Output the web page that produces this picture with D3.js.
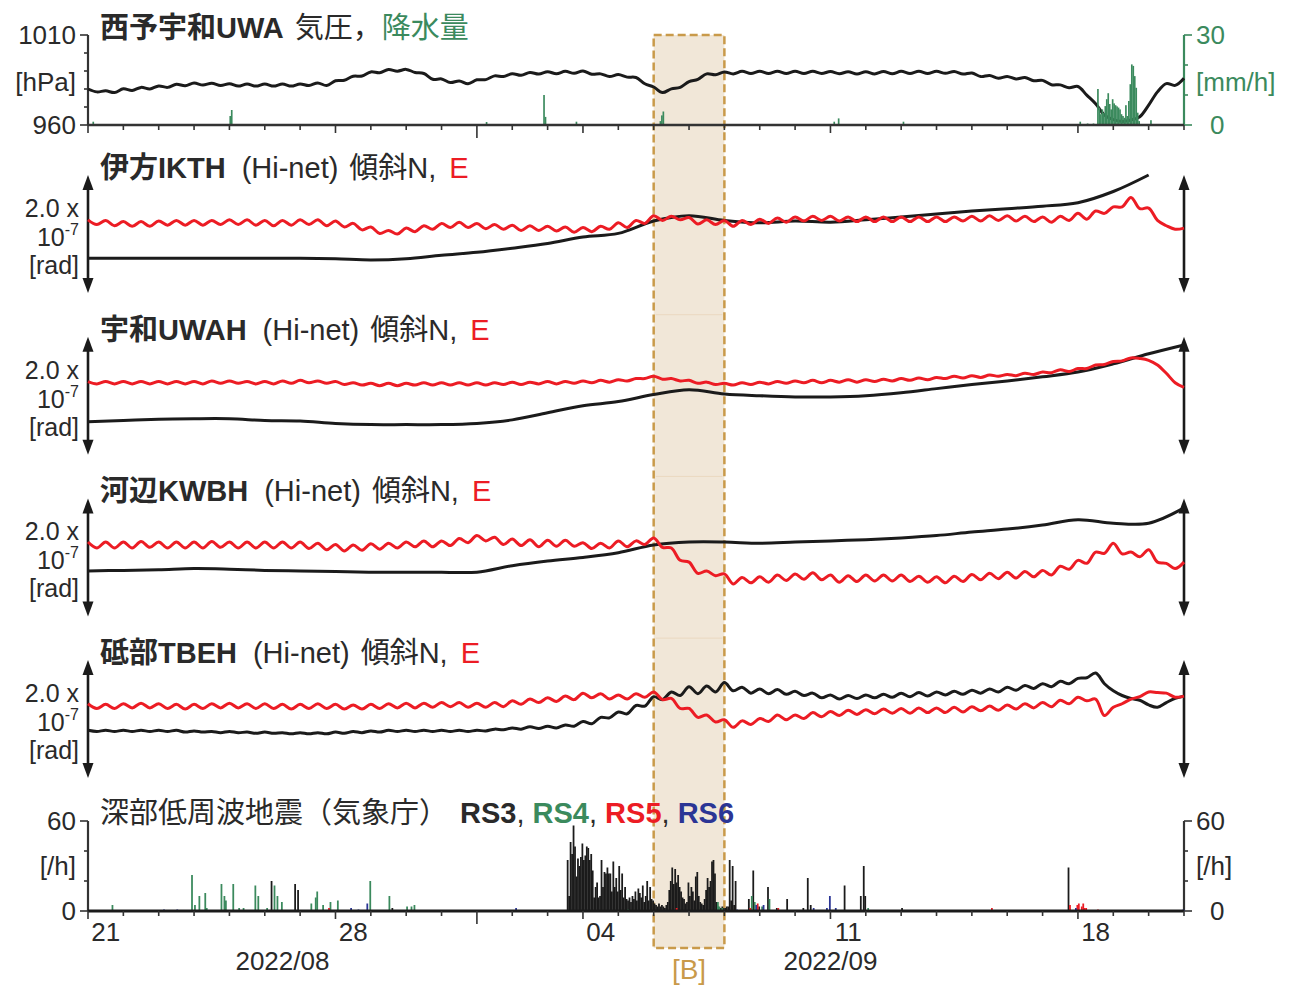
<!DOCTYPE html>
<html>
<head>
<meta charset="utf-8">
<script src="https://cdn.jsdelivr.net/npm/d3@7"></script>
<style>
  body { margin: 0; background: #fff; }
  svg { display: block; }
</style>
</head>
<body>
<svg id="chart" width="1298" height="986"></svg>
<script>
// ---- time frame -------------------------------------------------------------
const periodStart = "2022-08-21T00:00:00Z";
const periodEnd = "2022-09-21T00:00:00Z";
const highlightSpan = ["2022-09-06T00:00:00Z", "2022-09-08T00:00:00Z"];
const dayLabels = [["2022-08-21T12:00:00Z", "21"], ["2022-08-28T12:00:00Z", "28"],
  ["2022-09-04T12:00:00Z", "04"], ["2022-09-11T12:00:00Z", "11"], ["2022-09-18T12:00:00Z", "18"]];
const monthLabels = [["2022-08-26T12:00:00Z", "2022/08"], ["2022-09-11T00:00:00Z", "2022/09"]];

// ---- 西予宇和 UWA: pressure (hPa, every 6 h) and rainfall ([hour, mm/h]) ----
const pressure = [
  980.0,978.4,979.0,978.0,980.1,979.2,980.9,980.0,981.7,980.9,
  982.6,981.8,983.3,982.2,983.2,981.9,982.9,981.6,982.8,981.6,
  982.8,981.6,982.8,981.6,982.8,981.9,983.4,981.9,984.6,984.9,
  987.1,987.2,989.5,989.0,990.8,989.9,990.9,989.2,988.6,985.4,
  985.6,983.6,984.5,982.9,985.1,985.2,987.3,986.9,988.5,987.6,
  989.2,988.3,989.6,988.5,989.8,988.7,990.0,988.2,988.4,986.9,
  988.0,986.6,986.4,982.9,981.1,978.0,980.1,980.9,984.1,985.4,
  988.4,987.9,989.5,988.4,989.8,988.6,989.8,988.6,989.8,988.6,
  989.8,988.6,989.8,988.6,989.7,988.5,989.6,988.4,989.6,988.4,
  989.7,988.5,989.8,988.6,989.8,988.6,989.8,988.7,989.7,988.3,
  988.9,986.9,987.5,986.0,987.0,985.6,986.4,984.6,984.8,982.4,
  982.3,980.7,981.4,976.6,971.8,965.5,963.0,962.0,962.8,964.6,
  971.0,978.4,983.0,982.0,986.0];
const rainfall = [
  [3,1.1],[96,3],[97,5],[270,1],[290,0.3],[293,0.3],[309,10],[310,2.7],[331,1.1],
  [388,1.3],[389,3.2],[390,4.5],[506,1.1],[509,2.2],[553,1.1],[673,1.1],[678,0.5],[682,0.5],
  [685,12],[686,5.8],[687,3.6],[688,5.2],[689,4],[690,6.3],[691,8.6],[692,10.6],[693,7],
  [694,5.2],[695,8.6],[696,7.2],[697,6.6],[698,6.2],[699,5.8],[700,5.2],[701,3.6],[702,3],
  [703,2.4],[704,6.6],[705,3],[706,8],[707,13.6],[708,20.2],[709,19.7],[710,16.3],
  [711,12.4],[712,4.1],[713,1.3],[721,1.6]];

// ---- Hi-net tilt (nrad). E components every 6 h, N components daily (TBEH N every 6 h)
const ikthE = [
  24,16,23,14,21,13,21,13,22,15, 23,15,23,15,23,16,24,16,24,15,
  23,14,23,15,24,16,24,14,22,12, 18,7,12,1,6,0,10,4,14,8,
  18,11,20,11,18,9,16,8,15,6, 14,6,13,5,12,3,11,4,13,8,
  19,11,23,18,31,23,30,24,28,17, 24,16,23,13,23,16,25,18,27,20,
  29,22,30,23,30,22,29,21,29,21, 29,21,29,21,29,21,29,21,29,22,
  30,22,31,23,31,22,30,21,29,20, 30,23,35,25,39,35,46,46,62,43,
  44,23,14,8,10];
const ikthN = [-41,-41,-41,-41,-41,-41,-41,-42,-44,-42,-36,-31,-24,-16,-5,1,
  22,31,23,19,22,20,24,29,34,39,43,47,53,72,100];

const uwahE = [
  24,20,24,20,24,20,24,20,24,20, 24,20,24,20,25,21,25,21,24,20,
  24,20,25,21,26,22,25,21,24,19, 22,18,21,17,21,17,21,18,22,18,
  22,18,22,18,22,18,22,19,23,19, 23,20,24,20,24,21,25,22,26,23,
  27,25,29,29,33,28,29,25,26,21, 23,19,21,18,22,19,23,20,24,21,
  25,22,26,22,26,23,27,23,27,24, 28,25,29,26,30,27,31,29,33,30,
  34,31,35,33,36,34,38,36,40,39, 44,41,46,46,52,53,58,59,64,63,
  60,52,38,22,14];
const uwahN = [-44,-42,-40,-39,-39,-42,-43,-47,-49,-49,-49,-47,-41,-29,-17,-10,
  2,10,3,0,-2,-2,0,5,12,19,25,32,40,54,71,86];

const kwbhE = [
  26,16,26,16,26,16,27,17,26,16, 26,16,26,16,27,17,26,16,26,16,
  26,16,26,16,26,15,24,13,22,11, 21,12,23,14,24,16,26,18,28,18,
  28,20,32,25,37,28,34,22,31,20, 30,18,29,19,29,19,25,15,24,16,
  28,18,28,22,33,17,16,-5,-8,-27, -23,-31,-28,-45,-34,-43,-33,-42,-30,-39,
  -28,-37,-26,-38,-30,-42,-31,-41,-30,-40, -30,-40,-30,-41,-32,-42,-33,-43,-32,-41,
  -29,-38,-27,-36,-25,-35,-24,-33,-22,-30, -15,-20,-5,-10,9,7,24,6,9,1,
  13,-8,-10,-19,-8];
const kwbhN = [-23,-22,-21,-19,-20,-22,-23,-24,-25,-25,-25,-25,-14,-6,0,8,
  21,26,26,24,26,28,30,33,37,43,48,55,64,58,58,84];

const tbehE = [
  26,18,25,18,26,19,27,19,26,18, 25,17,25,18,26,19,27,19,26,18,
  26,18,25,17,25,18,26,18,25,17, 24,17,25,18,26,19,27,19,27,20,
  28,21,28,20,27,20,28,21,31,25, 34,28,36,30,39,33,44,36,43,34,
  41,34,43,37,46,33,35,18,18,3, 7,-5,-1,-14,-3,-9,1,-4,7,-1,
  7,1,11,4,13,6,15,8,16,9, 17,10,18,10,19,11,19,11,20,12,
  21,14,22,15,24,17,26,19,28,21, 32,26,37,31,34,6,20,26,34,38,
  46,45,44,37,39];
const tbehN = [
  -19,-21,-19,-21,-19,-21,-19,-21,-19,-21, -19,-22,-20,-22,-21,-23,-21,-23,-22,-24,
  -22,-24,-23,-25,-23,-25,-23,-25,-22,-24, -21,-23,-20,-22,-19,-21,-19,-21,-19,-21,
  -19,-21,-19,-21,-19,-20,-17,-18,-15,-17, -13,-16,-12,-15,-10,-12,-4,-8,3,2,
  12,9,23,22,38,33,46,40,55,43, 56,46,62,48,54,44,51,43,50,42,
  47,40,44,36,41,34,40,35,41,36, 42,37,44,38,45,39,46,41,47,42,
  49,44,51,46,54,49,57,52,60,55, 64,60,69,70,78,60,48,40,35,32,
  24,20,28,35,39];

const stationNames = ["伊方IKTH", "宇和UWAH", "河辺KWBH", "砥部TBEH"];

// ---- deep low-frequency tremor counts (JMA), events per hour ----------------
const rs3BurstStart = 325;
const rs3Burst = [
  34,10,46,38,57,43,23,35,30,36, 45,34,37,43,42,34,38,27,9,16,
  19,9,10,34,16,26,25,29,25,25, 13,33,16,22,13,30,14,25,9,16,
  8,7,9,6,10,8,13,7,15,12, 9,17,6,10,20,7,16,8,7,5,
  4,3,5,3,4,3,2,4,6,14, 20,29,18,28,19,24,16,13,9,8,
  5,6,19,10,16,13,7,23,26,10, 6,5,4,8,14,22,16,20,33,34,
  25,6,3,2,2,3,2,2,3,3, 34,7,30,4,20];
const rs3 = [[124,20],[140,18],[142,14],[206,2],[448,8],[451,27],[455,3],[461,16],[467,2],
  [474,8],[485,2],[488,22],[490,4],[513,17],[524,10],[526,30],[527,10],[552,2],[665,29]];
const rs4 = [[16,4],[70,24],[72,4],[75,10],[79,12],[80,2],[90,18],[92,10],[93,7],[98,18],
  [102,2],[105,2],[113,17],[115,10],[121,2],[126,17],[128,10],[131,6],[151,5],[154,9],
  [155,13],[159,4],[164,6],[169,7],[191,20],[204,10],[216,3],[219,3],[221,4],[366,1],
  [427,6],[428,3],[430,2],[450,10],[452,6],[457,3],[462,8],[529,2]];
const rs5 = [[163,2],[399,2],[449,2],[454,5],[468,2],[613,2],[666,4],[671,4],[672,5],
  [674,3],[675,5],[676,2],[677,2],[685,1]];
const rs6 = [[51,1],[60,1],[178,2],[183,1],[189,5],[290,2],[440,1],[453,4],[458,4],
  [492,2],[501,2],[503,10],[507,2],[670,2],[743,1]];

// ---- drawing -------------------------------------------------------------------
const FONT = '"Liberation Sans", "Noto Sans CJK JP", sans-serif';
const C = { ink: "#1b1b1b", text: "#2a2a2a", red: "#ec1c24", green: "#3b8a5d",
  blue: "#2b3595", box: "#c99a4a", boxFill: "#f1e7d8" };

const t0 = new Date(periodStart), t1 = new Date(periodEnd);
const hourMs = 3600e3;
const atHour = h => new Date(t0.getTime() + h * hourMs);
const x = d3.scaleUtc().domain([t0, t1]).range([88, 1184]);
const xL = x.range()[0], xR = x.range()[1];
const svg = d3.select("#chart").style("font-family", FONT);

const every6h = vals => vals.map((v, k) => [atHour(k * 6), v]);
const everyDay = vals => vals.map((v, d) => [atHour(d * 24), v]);
const lineFor = y => d3.line().x(d => x(d[0])).y(d => y(d[1])).curve(d3.curveCatmullRom.alpha(0.5));

// layout
const pTop = 35, pBot = 125;
const tiltTop = i => 175 + i * 161.7, tiltH = 118;
const qTop = 821, qBot = 911;

// highlighted interval
const hx0 = x(new Date(highlightSpan[0])), hx1 = x(new Date(highlightSpan[1]));
const gBox = svg.append("g");
gBox.append("rect").attr("x", hx0).attr("y", pTop).attr("width", hx1 - hx0).attr("height", 948 - pTop)
  .attr("fill", C.boxFill);
[1, 2, 3].forEach(i => gBox.append("line").attr("x1", hx0 + 2).attr("x2", hx1 - 2)
  .attr("y1", tiltTop(i) - 22).attr("y2", tiltTop(i) - 22).attr("stroke", "#ead8c0").attr("stroke-width", 1));
gBox.append("rect").attr("x", hx0).attr("y", pTop).attr("width", hx1 - hx0).attr("height", 948 - pTop)
  .attr("fill", "none").attr("stroke", C.box).attr("stroke-width", 2.5).attr("stroke-dasharray", "8,4");
svg.append("text").attr("x", (hx0 + hx1) / 2).attr("y", 969).attr("text-anchor", "middle")
  .attr("dominant-baseline", "central").attr("font-size", 28).attr("fill", C.box).text("[B]");

// day ticks along a baseline
function dayTicks(yBase) {
  const days = d3.utcDay.range(t0, new Date(t1.getTime() + 1));
  svg.append("g").selectAll("line").data(days).join("line")
    .attr("x1", d => x(d)).attr("x2", d => x(d)).attr("y1", yBase)
    .attr("y2", d => yBase + (d.getUTCDate() === 1 ? 13 : ((d - t0) / 864e5) % 7 === 0 ? 8 : 5))
    .attr("stroke", "#333").attr("stroke-width", 1.6);
}
function vTicks(xAxis, scale, values, dir, color) {
  const g = svg.append("g");
  g.append("line").attr("x1", xAxis).attr("x2", xAxis).attr("y1", scale.range()[1]).attr("y2", scale.range()[0])
    .attr("stroke", color).attr("stroke-width", 2.2);
  const dom = scale.domain();
  g.selectAll("line.t").data(values).join("line").attr("class", "t")
    .attr("x1", xAxis).attr("x2", v => xAxis + dir * ((v === dom[0] || v === dom[1]) ? 8 : 4))
    .attr("y1", v => scale(v)).attr("y2", v => scale(v)).attr("stroke", color).attr("stroke-width", 1.6);
}
function label(xp, yp, txt, anchor, color, size) {
  return svg.append("text").attr("x", xp).attr("y", yp).attr("text-anchor", anchor || "end")
    .attr("dominant-baseline", "central").attr("font-size", size || 26).attr("fill", color || C.text).text(txt);
}
function title(yp, parts) {
  const t = svg.append("text").attr("x", 100).attr("y", yp).attr("dominant-baseline", "central")
    .attr("font-size", 29).attr("fill", C.text);
  parts.forEach(p => {
    const s = t.append("tspan").text(p.t).attr("fill", p.c || C.text).attr("font-weight", p.b ? 700 : 400);
    if (p.x) s.attr("x", p.x);
    if (p.dx) s.attr("dx", p.dx);
  });
}

// ---- panel 1: pressure and rainfall
const yP = d3.scaleLinear().domain([960, 1010]).range([pBot, pTop]);
const yR = d3.scaleLinear().domain([0, 30]).range([pBot, pTop]);
vTicks(xL, yP, d3.range(960, 1011, 10), -1, "#333");
vTicks(xR, yR, d3.range(0, 31, 10), 1, C.green);
svg.append("path").datum(every6h(pressure)).attr("d", lineFor(yP))
  .attr("fill", "none").attr("stroke", C.ink).attr("stroke-width", 3).attr("stroke-linejoin", "round");
const hourW = x(atHour(1)) - x(atHour(0));
svg.append("g").selectAll("rect").data(rainfall).join("rect")
  .attr("x", d => x(atHour(d[0]))).attr("width", hourW + 0.2)
  .attr("y", d => yR(d[1])).attr("height", d => yR(0) - yR(d[1])).attr("fill", C.green);
svg.append("line").attr("x1", xL).attr("x2", xR).attr("y1", pBot).attr("y2", pBot)
  .attr("stroke", "#333").attr("stroke-width", 2.6);
dayTicks(pBot);
label(76, pTop, "1010"); label(76, 82, "[hPa]"); label(76, pBot, "960");
label(1196, pTop, "30", "start", C.green); label(1196, 82, "[mm/h]", "start", C.green);
label(1210, pBot, "0", "start", C.green);
title(28, [{ t: "西予宇和UWA", b: 1 }, { t: "気圧，", dx: 11 }, { t: "降水量", c: C.green }]);

// ---- panels 2-5: tilt
const tiltSets = [[ikthN, everyDay, ikthE], [uwahN, everyDay, uwahE],
  [kwbhN, everyDay, kwbhE], [tbehN, every6h, tbehE]];
function doubleArrow(xp, top, bot) {
  const g = svg.append("g").attr("fill", C.ink);
  g.append("line").attr("x1", xp).attr("x2", xp).attr("y1", top + 8).attr("y2", bot - 8)
    .attr("stroke", C.ink).attr("stroke-width", 2.6);
  g.append("path").attr("d", `M${xp},${top}L${xp - 5.5},${top + 15}L${xp + 5.5},${top + 15}Z`);
  g.append("path").attr("d", `M${xp},${bot}L${xp - 5.5},${bot - 15}L${xp + 5.5},${bot - 15}Z`);
}
tiltSets.forEach(([nVals, sampler, eVals], i) => {
  const top = tiltTop(i), bot = top + tiltH;
  const y = d3.scaleLinear().domain([-100, 100]).range([bot, top]);
  doubleArrow(xL, top, bot); doubleArrow(xR, top, bot);
  svg.append("path").datum(sampler(nVals)).attr("d", lineFor(y))
    .attr("fill", "none").attr("stroke", C.ink).attr("stroke-width", 3);
  svg.append("path").datum(every6h(eVals)).attr("d", lineFor(y))
    .attr("fill", "none").attr("stroke", C.red).attr("stroke-width", 3);
  label(79, top + 33, "2.0 x", "end", C.text, 25);
  const t = label(79, top + 62, "10", "end", C.text, 25);
  t.append("tspan").attr("dy", -8).attr("font-size", 16).text("-7");
  label(79, top + 90, "[rad]", "end", C.text, 25);
  title(top - 7, [{ t: stationNames[i], b: 1 }, { t: "(Hi-net)", dx: 16 }, { t: "傾斜N,", dx: 11 },
    { t: "E", dx: 13, c: C.red }]);
});

// ---- panel 6: tremor counts
const yQ = d3.scaleLinear().domain([0, 60]).range([qBot, qTop]);
vTicks(xL, yQ, d3.range(0, 61, 20), -1, "#333");
vTicks(xR, yQ, d3.range(0, 61, 20), 1, "#333");
const burst = rs3Burst.map((c, j) => [rs3BurstStart + j, c]);
[[burst.concat(rs3), C.ink], [rs4, C.green], [rs5, C.red], [rs6, C.blue]].forEach(([rows, col]) => {
  svg.append("g").selectAll("rect").data(rows).join("rect")
    .attr("x", d => x(atHour(d[0]))).attr("width", hourW + 0.3)
    .attr("y", d => yQ(d[1])).attr("height", d => yQ(0) - yQ(d[1])).attr("fill", col);
});
svg.append("line").attr("x1", xL).attr("x2", xR).attr("y1", qBot).attr("y2", qBot)
  .attr("stroke", C.ink).attr("stroke-width", 3);
dayTicks(qBot);
label(76, qTop, "60"); label(76, 866, "[/h]"); label(76, qBot, "0");
label(1196, qTop, "60", "start"); label(1196, 866, "[/h]", "start"); label(1210, qBot, "0", "start");
title(813, [{ t: "深部低周波地震（気象庁）" }, { t: "RS3", b: 1, x: 460 }, { t: ", " },
  { t: "RS4", b: 1, c: C.green }, { t: ", " }, { t: "RS5", b: 1, c: C.red }, { t: ", " },
  { t: "RS6", b: 1, c: C.blue }]);

// date labels
dayLabels.forEach(([d, s]) => label(x(new Date(d)), 932, s, "middle", C.text, 26));
monthLabels.forEach(([d, s]) => label(x(new Date(d)), 961, s, "middle", C.text, 26));
</script>
</body>
</html>
